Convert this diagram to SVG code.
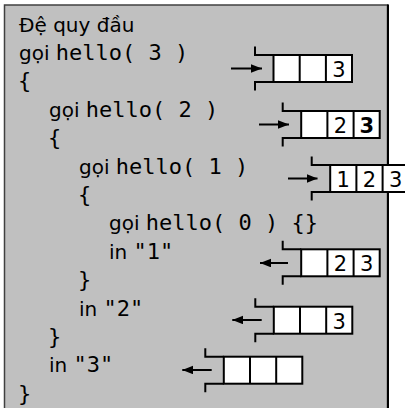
<svg xmlns="http://www.w3.org/2000/svg" width="405" height="408" viewBox="0 0 405 408">
<style>
.code{font-family:"DejaVu Sans",sans-serif;font-size:20px;fill:#000}
.mono{font-family:"DejaVu Sans Mono",monospace;font-size:22px}
.num{font-family:"DejaVu Sans",sans-serif;font-size:21px;fill:#000;text-anchor:middle}
.br{fill:none;stroke:#000;stroke-width:2}
.cell{fill:#fff;stroke:#000;stroke-width:2}
.arr{fill:none;stroke:#000;stroke-width:2;marker-end:url(#ah)}
</style>
<defs>
<marker id="ah" markerUnits="userSpaceOnUse" markerWidth="12" markerHeight="10" refX="11" refY="4.35" orient="auto">
<path d="M0,0 L11,4.35 L0,8.7 Z" fill="#000"/>
</marker>
<g id="stack">
<path class="br" d="M0,-8.5 V0 H18.5 M0,35.5 V27 H18.5"/>
<rect class="cell" x="18.5" y="0" width="78.5" height="27"/>
<path class="br" d="M44.7,0 V27 M70.9,0 V27"/>
</g>
</defs>
<rect x="4.5" y="5" width="383" height="410" fill="#c0c0c0" stroke="#404040" stroke-width="1.5"/>
<line x1="388" y1="4.5" x2="388" y2="408" stroke="#000" stroke-width="2"/>
<g id="code">
<text class="code" x="19" y="31.5">Đệ quy đầu</text>
<text class="code" x="19" y="59.9">gọi <tspan class="mono">hello( 3 )</tspan></text>
<text class="code mono" x="18" y="88.3">{</text>
<text class="code" x="49" y="116.7">gọi <tspan class="mono">hello( 2 )</tspan></text>
<text class="code mono" x="48" y="145.1">{</text>
<text class="code" x="79" y="173.5">gọi <tspan class="mono">hello( 1 )</tspan></text>
<text class="code mono" x="78" y="201.9">{</text>
<text class="code" x="109" y="230.3">gọi <tspan class="mono">hello( 0 ) {}</tspan></text>
<text class="code" x="109" y="258.7">in <tspan class="mono">"1"</tspan></text>
<text class="code mono" x="78" y="287.1">}</text>
<text class="code" x="79" y="315.5">in <tspan class="mono">"2"</tspan></text>
<text class="code mono" x="48" y="343.9">}</text>
<text class="code" x="49" y="372.3">in <tspan class="mono">"3"</tspan></text>
<text class="code mono" x="18" y="400.7">}</text>
</g>
<g id="stack1" transform="translate(255,55)">
<use href="#stack"/>
<text class="num" x="84" y="22">3</text>
</g>
<g id="stack2" transform="translate(282.7,111)">
<use href="#stack"/>
<text class="num" x="57.8" y="22">2</text>
<text class="num" x="84" y="22" font-weight="bold">3</text>
</g>
<g id="stack3" transform="translate(311.7,165)">
<use href="#stack"/>
<text class="num" x="31.6" y="22">1</text>
<text class="num" x="57.8" y="22">2</text>
<text class="num" x="84" y="22">3</text>
</g>
<g id="stack4" transform="translate(282.7,249.3)">
<use href="#stack"/>
<text class="num" x="57.8" y="22">2</text>
<text class="num" x="84" y="22">3</text>
</g>
<g id="stack5" transform="translate(255.3,306.7)">
<use href="#stack"/>
<text class="num" x="84" y="22">3</text>
</g>
<g id="stack6" transform="translate(205.3,356.7)">
<use href="#stack"/>
</g>
<g id="connectors">
<line class="arr" x1="231" y1="68.5" x2="262" y2="68.5"/>
<line class="arr" x1="259" y1="124.5" x2="289" y2="124.5"/>
<line class="arr" x1="288" y1="178.5" x2="317.5" y2="178.5"/>
<line class="arr" x1="288" y1="263" x2="260" y2="263"/>
<line class="arr" x1="261.7" y1="320" x2="232.3" y2="320"/>
<line class="arr" x1="211.7" y1="370" x2="182.3" y2="370"/>
</g>
</svg>
